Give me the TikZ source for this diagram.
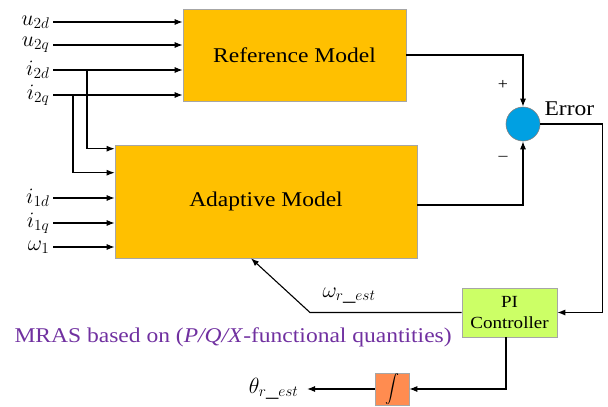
\documentclass[tikz,border=0pt]{standalone}
\usepackage{fix-cm}
\usepackage{fontspec}
\setmainfont{Liberation Serif}[FakeStretch=1.12]
\usetikzlibrary{positioning,arrows.meta,calc}
\definecolor{modelorange}{RGB}{255,192,0}
\definecolor{sumblue}{RGB}{0,160,226}
\definecolor{pigreen}{RGB}{204,255,102}
\definecolor{intorange}{RGB}{255,140,80}
\definecolor{mraspurple}{RGB}{112,48,160}

\begin{document}
\begin{tikzpicture}[x=1pt,y=-1pt,>={Latex[length=8pt,width=6pt]},line width=1.1pt,
  model/.style={draw=gray!70,line width=0.6pt,fill=modelorange,inner sep=0pt,
    font=\fontsize{21}{24}\selectfont},
  sig/.style={inner sep=0pt,font=\fontsize{22}{24}\selectfont}]
  \useasboundingbox (0,0) rectangle (608,407);
  % the two models
  \node[model,minimum width=223pt,minimum height=92pt] (ref) at (294.5,55) {Reference Model};
  \node[model,minimum width=302pt,minimum height=113pt] (adapt) at (266,201.5) {Adaptive Model};
  \node[circle,draw=gray,line width=0.6pt,fill=sumblue,minimum size=34pt,inner sep=0pt] (sum) at (523,124) {};
  \node[draw=gray!70,line width=0.6pt,fill=pigreen,minimum width=95pt,minimum height=49pt,
    align=center,inner sep=0pt,font=\fontsize{17}{21}\selectfont] (pi) at (509.5,312.5) {PI\\Controller};
  \node[draw=gray!70,line width=0.6pt,fill=intorange,minimum width=34pt,minimum height=32pt,
    inner sep=0pt] (integ) at (392,389) {\scalebox{1.4}{$\displaystyle\int$}};

  % inputs of the reference model
  \foreach \y/\name/\lab in {22/u2d/u_{2d},45/u2q/u_{2q},70/i2d/i_{2d},95/i2q/i_{2q}} {
    \coordinate (in-\name) at (53,\y);
    \node[sig,left=3pt of in-\name] (lab-\name) {$\lab$};
    \draw[->] (in-\name) -- (in-\name -| ref.west);
  }
  % inputs of the adaptive model
  \foreach \y/\name/\lab in {198/i1d/i_{1d},223/i1q/i_{1q},247/w1/\omega_1} {
    \coordinate (in-\name) at (53,\y);
    \node[sig,left=3pt of in-\name] (lab-\name) {$\lab$};
    \draw[->] (in-\name) -- (in-\name -| adapt.west);
  }
  \coordinate (br-d) at (87,70);
  \coordinate (br-q) at (73,95);
  \draw[->] (br-d) |- ([yshift=-4pt]adapt.north west);
  \draw[->] (br-q) |- ([yshift=-28pt]adapt.north west);

  % error loop
  \draw[->] (ref.east) -| (sum.north);
  \draw[->] ([yshift=-3.5pt]adapt.east) -| (sum.south);
  \node[font=\fontsize{16}{16}\selectfont] (plus) at (503,85) {+};
  \node[font=\fontsize{16}{16}\selectfont] (minus) at (503,158) {–};
  \node[anchor=west,inner sep=0pt,font=\fontsize{21}{24}\selectfont] (err) at (544,109) {Error};
  \draw[->] (sum.east) -- ++(62,0) |- (pi.east);
  \draw[->] (pi.west) -- (pi.west -| 310,0) -- ([xshift=-15pt]adapt.south);
  \node[sig] (west) at (349,296) {$\omega_{r\_est}$};

  % integrator
  \coordinate (theta-end) at (307,389);
  \draw[->] ([xshift=-3.5pt]pi.south) |- (integ.east);
  \draw[->] (integ.west) -- (theta-end);
  \node[sig,left=8pt of theta-end] (theta) {$\theta_{r\_est}$};

  \node[anchor=west,inner sep=0pt,text=mraspurple,font=\fontsize{21}{24}\selectfont] (title) at (14,337)
    {MRAS based on (\textit{P/Q/X}-functional quantities)};
\end{tikzpicture}
\end{document}
